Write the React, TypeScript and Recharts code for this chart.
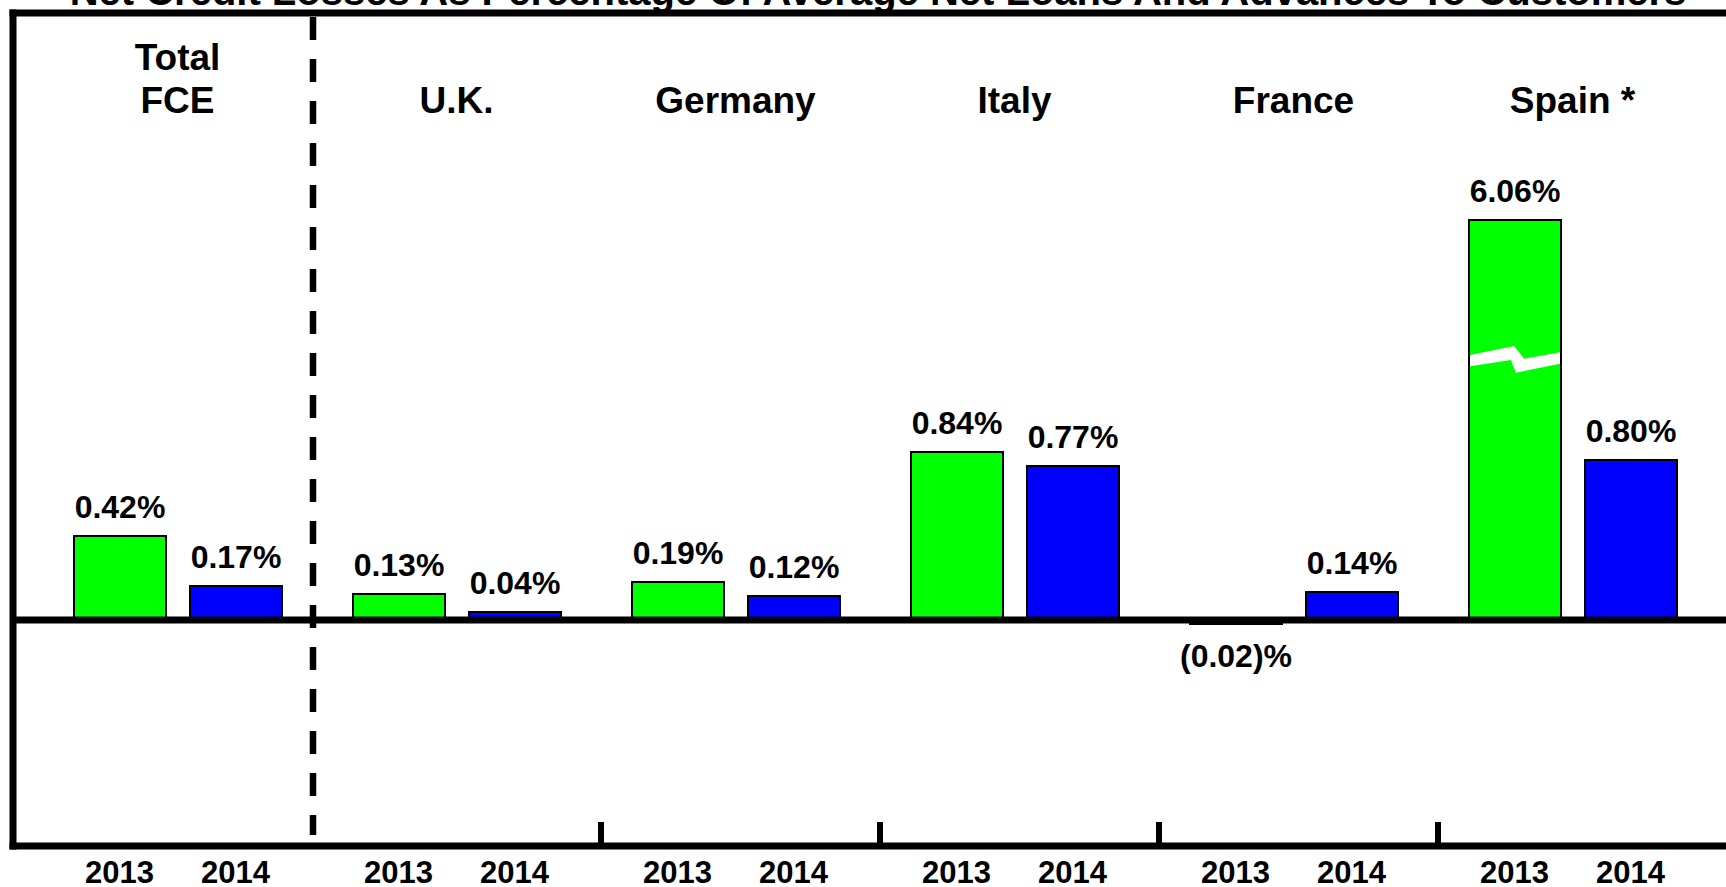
import React from 'react';
import {
  BarChart,
  Bar,
  XAxis,
  YAxis,
  ReferenceLine,
  ReferenceArea,
  Customized,
} from 'recharts';

// ---------- data ----------
const categories = ['Total\nFCE', 'U.K.', 'Germany', 'Italy', 'France', 'Spain *'];
const years = ['2013', '2014'];
const values2013 = [0.42, 0.13, 0.19, 0.84, -0.02, 6.06];
const values2014 = [0.17, 0.04, 0.12, 0.77, 0.14, 0.8];
// Spain 2013 is drawn as a broken bar, truncated at this value
const BREAK_CAP = 2.0;
const title = 'Net Credit Losses As Percentage Of Average Net Loans And Advances To Customers';

// ---------- style ----------
const FONT = '"Liberation Sans", Arial, Helvetica, sans-serif';
const GREEN = '#00ff00';
const BLUE = '#0000ff';
const AXIS = { stroke: '#000', strokeWidth: 7, strokeLinecap: 'square' as const };
const YEAR_OFFSET = 58;
const Y_DOMAIN: [number, number] = [-1.13, 3.035];

const fmt = (v: number) => (v < 0 ? `(${Math.abs(v).toFixed(2)})%` : `${v.toFixed(2)}%`);

const BarShape = (props: any) => {
  const { x, y, width, height, payload, fill, valueKey } = props;
  const top = Math.min(y, y + height);
  const bottom = Math.max(y, y + height);
  const h = bottom - top;
  const v: number = payload[valueKey];
  const broken = v > BREAK_CAP;
  const cx = x + width / 2;
  const ty = v < 0 ? bottom + 43 : top - 18;
  const w = width;
  return (
    <g>
      <rect x={x} y={top} width={width} height={h} fill={fill} stroke="#000" strokeWidth={2} />
      {broken && (
        <polygon
          fill="#fff"
          points={[
            [1, 135], [w * 0.49, 126], [w * 0.6, 138.7], [w - 1, 132.3],
            [w - 1, 143.7], [w * 0.51, 152.7], [w * 0.455, 140], [1, 146.3],
          ]
            .map(([px, py]) => `${x + px},${top + py}`)
            .join(' ')}
        />
      )}
      <text
        x={cx}
        y={ty}
        textAnchor="middle"
        fontFamily={FONT}
        fontWeight={700}
        fontSize={32}
        fill="#000"
      >
        {fmt(v)}
      </text>
    </g>
  );
};

const YearTick = (props: any) => {
  const { x, y } = props;
  return (
    <g>
      {years.map((yr, i) => (
        <text
          key={yr}
          x={x + (i === 0 ? -YEAR_OFFSET : YEAR_OFFSET)}
          y={y + 37}
          textAnchor="middle"
          fontFamily={FONT}
          fontWeight={700}
          fontSize={31}
          fill="#000"
        >
          {yr}
        </text>
      ))}
    </g>
  );
};

const CatTick = (props: any) => {
  const { x, y, payload } = props;
  const lines = String(payload.value).split('\n');
  const base = y + 100;
  return (
    <text textAnchor="middle" fontFamily={FONT} fontWeight={700} fontSize={37} fill="#000">
      {lines.map((l, i) => (
        <tspan key={i} x={x} y={base - (lines.length - 1 - i) * 43}>
          {l}
        </tspan>
      ))}
    </text>
  );
};

const DashedDivider = (props: any) => {
  const { x, y, width, height } = props;
  const lx = x + width - 4;
  return (
    <line
      x1={lx}
      x2={lx}
      y1={y + 4}
      y2={y + height - 11}
      stroke="#000"
      strokeWidth={6.5}
      strokeDasharray="23 19"
    />
  );
};

const GroupTick = (props: any) => {
  const { x, y, height } = props;
  const lx = x + 5;
  return <line x1={lx} x2={lx} y1={y + height - 24} y2={y + height} stroke="#000" strokeWidth={6} />;
};

const Title = () => (
  <text
    x={878}
    y={5}
    textAnchor="middle"
    fontFamily={FONT}
    fontWeight={700}
    fontSize={40}
    fill="#000"
  >
    {title}
  </text>
);

export default function App() {
  const data = categories.map((name, i) => ({
    name,
    v2013: values2013[i],
    v2014: values2014[i],
    d2013: Math.min(values2013[i], BREAK_CAP),
    d2014: Math.min(values2014[i], BREAK_CAP),
  }));
  const pad = { left: 25, right: 14 };
  return (
    <div
      style={{
        position: 'absolute',
        left: 0,
        top: 0,
        width: 1726,
        height: 887,
        background: '#fff',
        overflow: 'hidden',
      }}
    >
      <BarChart
        width={1726}
        height={887}
        data={data}
        margin={{ top: 12, right: 0, bottom: 0, left: 12 }}
        barSize={92}
        barGap={24}
      >
        <XAxis
          xAxisId="bottom"
          dataKey="name"
          orientation="bottom"
          height={41}
          padding={pad}
          axisLine={AXIS}
          tickLine={false}
          tickSize={0}
          tickMargin={0}
          interval={0}
          tick={<YearTick />}
        />
        <XAxis
          xAxisId="top"
          dataKey="name"
          orientation="top"
          height={1}
          padding={pad}
          axisLine={AXIS}
          tickLine={false}
          tickSize={0}
          tickMargin={0}
          interval={0}
          tick={<CatTick />}
        />
        <YAxis
          type="number"
          domain={Y_DOMAIN}
          allowDataOverflow
          width={1}
          axisLine={AXIS}
          tick={false}
          tickLine={false}
        />
        <ReferenceArea
          xAxisId="bottom"
          x1={categories[0]}
          x2={categories[0]}
          ifOverflow="visible"
          shape={DashedDivider}
        />
        {categories.slice(2).map((c) => (
          <ReferenceArea
            key={c}
            xAxisId="bottom"
            x1={c}
            x2={c}
            ifOverflow="visible"
            shape={GroupTick}
          />
        ))}
        <Bar
          xAxisId="bottom"
          dataKey="d2013"
          fill={GREEN}
          isAnimationActive={false}
          shape={(p: any) => <BarShape {...p} valueKey="v2013" />}
        />
        <Bar
          xAxisId="bottom"
          dataKey="d2014"
          fill={BLUE}
          isAnimationActive={false}
          shape={(p: any) => <BarShape {...p} valueKey="v2014" />}
        />
        <ReferenceLine xAxisId="bottom" y={0} stroke="#000" strokeWidth={7} ifOverflow="visible" />
        <Customized component={Title} />
      </BarChart>
    </div>
  );
}
